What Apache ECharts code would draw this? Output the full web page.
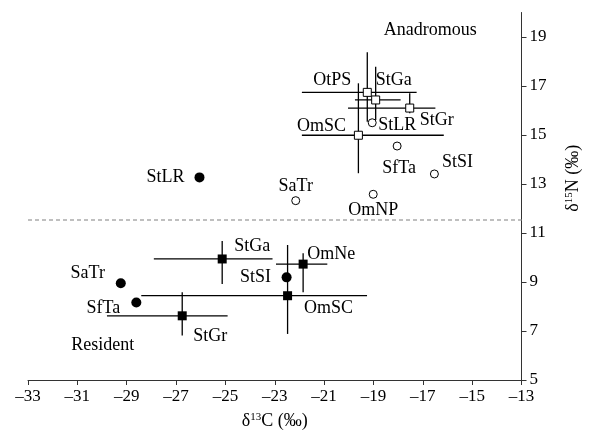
<!DOCTYPE html>
<html>
<head>
<meta charset="utf-8">
<script src="https://cdn.jsdelivr.net/npm/echarts@6/dist/echarts.min.js"></script>
<style>
  html, body { margin: 0; padding: 0; background: #fff; }
  #main { width: 590px; height: 442px; }
</style>
</head>
<body>
<div id="main"></div>
<script>
    // error bar groups: [name, d13C, d15N, xLow, xHigh, yLow, yHigh]
    var anadSquares = [
        ['OtPS', -19.25, 16.74, -21.90, -17.25, 15.54, 18.38],
        ['StGa', -18.91, 16.43, -19.75, -17.90, 15.61, 17.79],
        ['StGr', -17.53, 16.10, -20.03, -16.49, 15.89, 16.70],
        ['OmSC', -19.61, 14.99, -21.90, -16.15, 13.44, 17.11]
    ];
    var resSquares = [
        ['StGa', -25.13, 9.94, -27.90, -23.09, 8.92, 10.67],
        ['OmNe', -21.85, 9.73, -22.95, -20.87, 8.58, 10.17],
        ['OmSC', -22.48, 8.44, -28.41, -19.26, 6.88, 10.51],
        ['StGr', -26.75, 7.62, -29.80, -24.91, 6.82, 8.58]
    ];
    // single means: [name, d13C, d15N]
    var anadCircles = [
        ['StLR', -19.05, 15.50],
        ['SfTa', -18.04, 14.55],
        ['StSI', -16.53, 13.41],
        ['OmNP', -19.01, 12.58],
        ['SaTr', -22.15, 12.32]
    ];
    var resCircles = [
        ['StLR', -26.05, 13.27],
        ['SaTr', -29.24, 8.95],
        ['SfTa', -28.61, 8.16],
        ['StSI', -22.52, 9.19]
    ];
    var groupNotes = [
        ['Anadromous', -16.70, 19.29],
        ['Resident', -29.97, 6.43]
    ];
    var boundaryN = 11.55;
    var xRange = [-33, -13, 2];
    var yRange = [5, 20];
    var yTickVals = [5, 7, 9, 11, 13, 15, 17, 19];

    // label offsets in pixels from each marker
    var offAnadSq = { OtPS: [-35, -12], StGa: [18, -20], StGr: [27, 12], OmSC: [-37, -9] };
    var offAnadCi = { StLR: [25, 3], SfTa: [2, 22], StSI: [23, -12], OmNP: [0, 16], SaTr: [0, -14] };
    var offResCi = { StLR: [-34, 0], SaTr: [-33, -10], SfTa: [-33, 6], StSI: [-31, 0] };
    var offResSq = { StGa: [30, -13], OmNe: [28, -10], OmSC: [41, 13], StGr: [28, 20] };

    var FONT = 'Liberation Serif';

    function pts(rows, offs) {
        return rows.map(function (r) {
            return {
                name: r[0],
                value: [r[1], r[2]],
                label: { offset: offs[r[0]] }
            };
        });
    }

    function bars(rows) {
        return rows.map(function (r) { return r.slice(1); });
    }

    var myChart = echarts.init(document.getElementById('main'));

    var errorBars = function (params, api) {
        var l = api.coord([api.value(2), api.value(1)]);
        var r = api.coord([api.value(3), api.value(1)]);
        var b = api.coord([api.value(0), api.value(4)]);
        var t = api.coord([api.value(0), api.value(5)]);
        var st = { stroke: '#000', lineWidth: 1.3 };
        return {
            type: 'group',
            children: [
                { type: 'line', shape: { x1: l[0], y1: l[1], x2: r[0], y2: r[1] }, style: st },
                { type: 'line', shape: { x1: b[0], y1: b[1], x2: t[0], y2: t[1] }, style: st }
            ]
        };
    };

    var ptLabel = {
        show: true,
        position: 'inside',
        formatter: '{b}',
        color: '#000',
        fontFamily: FONT,
        fontSize: 18
    };

    var supRich = {
        d: { fontFamily: FONT, fontSize: 18, color: '#000' },
        sup: { fontFamily: FONT, fontSize: 11, color: '#000', padding: [0, 0, 8, 0] }
    };

    var option = {
        animation: false,
        grid: { left: 28, right: 67, top: 12.5, bottom: 62 },
        xAxis: {
            type: 'value',
            min: xRange[0],
            max: xRange[1],
            interval: xRange[2],
            name: '{d|δ}{sup|13}{d|C (‰)}',
            nameLocation: 'middle',
            nameGap: 32,
            nameTextStyle: { rich: supRich },
            splitLine: { show: false },
            axisLine: { onZero: false, lineStyle: { color: '#333', width: 1 } },
            axisTick: { inside: false, length: 5, lineStyle: { color: '#333' } },
            axisLabel: {
                color: '#000',
                fontFamily: FONT,
                fontSize: 17,
                margin: 8,
                formatter: function (v) { return String(v).replace('-', '–'); }
            }
        },
        yAxis: {
            type: 'value',
            position: 'right',
            min: yRange[0],
            max: yRange[1],
            name: '{d|δ}{sup|15}{d|N (‰)}',
            nameLocation: 'middle',
            nameRotate: 90,
            nameGap: 42,
            nameTextStyle: { padding: [0, 0, 0, 36], rich: supRich },
            splitLine: { show: false },
            axisLine: { show: true, onZero: false, lineStyle: { color: '#333', width: 1 } },
            axisTick: { show: true, inside: false, length: 5, customValues: yTickVals, lineStyle: { color: '#333' } },
            axisLabel: {
                color: '#000',
                fontFamily: FONT,
                fontSize: 17,
                margin: 8,
                customValues: yTickVals
            }
        },
        series: [
            {
                type: 'custom',
                name: 'anadBars',
                renderItem: errorBars,
                encode: { x: 0, y: 1 },
                data: bars(anadSquares),
                z: 1,
                silent: true
            },
            {
                type: 'custom',
                name: 'resBars',
                renderItem: errorBars,
                encode: { x: 0, y: 1 },
                data: bars(resSquares),
                z: 1,
                silent: true
            },
            {
                type: 'scatter',
                name: 'anadSquares',
                symbol: 'rect',
                symbolSize: 8,
                itemStyle: { color: '#fff', borderColor: '#000', borderWidth: 1, opacity: 1 },
                label: ptLabel,
                data: pts(anadSquares, offAnadSq),
                z: 3
            },
            {
                type: 'scatter',
                name: 'anadCircles',
                symbol: 'circle',
                symbolSize: 8,
                itemStyle: { color: '#fff', borderColor: '#000', borderWidth: 1, opacity: 1 },
                label: ptLabel,
                data: pts(anadCircles, offAnadCi),
                z: 3
            },
            {
                type: 'scatter',
                name: 'resCircles',
                symbol: 'circle',
                symbolSize: 10,
                itemStyle: { color: '#000', opacity: 1 },
                label: ptLabel,
                data: pts(resCircles, offResCi),
                z: 3
            },
            {
                type: 'scatter',
                name: 'resSquares',
                symbol: 'rect',
                symbolSize: 9,
                itemStyle: { color: '#000', opacity: 1 },
                label: ptLabel,
                data: pts(resSquares, offResSq),
                z: 3,
                markLine: {
                    silent: true,
                    symbol: 'none',
                    label: { show: false },
                    lineStyle: { color: '#aaa', type: [4, 3], width: 1.5, opacity: 1 },
                    data: [{ yAxis: boundaryN }]
                }
            },
            {
                type: 'scatter',
                name: 'notes',
                symbolSize: 0,
                itemStyle: { opacity: 1 },
                label: ptLabel,
                data: groupNotes.map(function (g) { return { name: g[0], value: [g[1], g[2]] }; }),
                z: 3
            }
        ]
    };

    myChart.setOption(option);
</script>
</body>
</html>
